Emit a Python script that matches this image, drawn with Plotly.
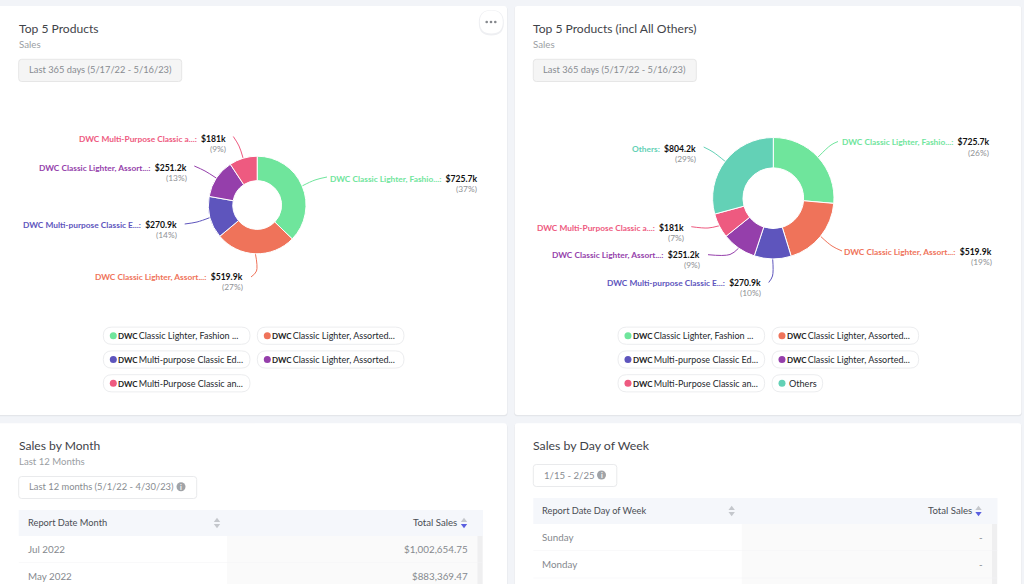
import math
import plotly.graph_objects as go

FONT = "Lato"
# ---- data
product_names = ["DWC Classic Lighter, Fashio...:", "DWC Classic Lighter, Assort...:", "DWC Multi-purpose Classic E...:",
                 "DWC Classic Lighter, Assort...:", "DWC Multi-Purpose Classic a...:"]
others_name = "Others:"
sales_k = [725.7, 519.9, 270.9, 251.2, 181.0]
sales_labels = ["$725.7k", "$519.9k", "$270.9k", "$251.2k", "$181k"]
pct_top5 = ["(37%)", "(27%)", "(14%)", "(13%)", "(9%)"]
others_k = 804.2
others_label = "$804.2k"
pct_all = ["(26%)", "(19%)", "(10%)", "(9%)", "(7%)", "(29%)"]
colors = ["#6FE59C", "#EF735A", "#5E55BD", "#953FAB", "#EE5A80"]
others_color = "#63D1B6"
legend_left = ["Classic Lighter, Fashion ...", "Classic Lighter, Assorted...", "Multi-purpose Classic Ed...",
               "Classic Lighter, Assorted...", "Multi-Purpose Classic an..."]
month_rows = ["Jul 2022", "May 2022"]
month_sales = ["$1,002,654.75", "$883,369.47"]
day_rows = ["Sunday", "Monday"]
day_sales = ["-", "-"]

W, H = 1024, 584
shapes, ann, traces = [], [], []


def rrect(x0, y0, x1, y1, r, fill, line=None, lw=1, layer="below"):
    p = (f"M{x0+r},{y0} L{x1-r},{y0} Q{x1},{y0} {x1},{y0+r} L{x1},{y1-r} Q{x1},{y1} {x1-r},{y1} "
         f"L{x0+r},{y1} Q{x0},{y1} {x0},{y1-r} L{x0},{y0+r} Q{x0},{y0} {x0+r},{y0} Z")
    shapes.append(dict(type="path", path=p, xref="x", yref="y", fillcolor=fill, layer=layer,
                       line=dict(color=line or fill, width=lw if line else 0)))


def rect(x0, y0, x1, y1, fill):
    shapes.append(dict(type="rect", x0=x0, y0=y0, x1=x1, y1=y1, xref="x", yref="y", fillcolor=fill,
                       layer="below", line=dict(width=0)))


def text(x, y, s, size=10, color="#333", anchor="left"):
    ann.append(dict(x=x, y=y, xref="x", yref="y", text=s, showarrow=False, xanchor=anchor, yanchor="middle",
                    font=dict(family=FONT, size=size, color=color), borderpad=0, borderwidth=0))


def dots(xs, ys, color, size, symbol="circle"):
    traces.append(go.Scatter(x=xs, y=ys, mode="markers", hoverinfo="skip", showlegend=False,
                             marker=dict(color=color, size=size, symbol=symbol, line=dict(width=0))))


# ---- cards
for x0, x1 in ((-6, 507), (514.7, 1021.3)):
    rrect(x0 - 0.5, 6.5, x1 + 0.5, 416.2, 3, "#E4E6EA")
    rrect(x0, 6, x1, 415, 3, "#FFFFFF")
    rrect(x0 - 0.5, 424, x1 + 0.5, 600, 3, "#E4E6EA")
    rrect(x0, 423.3, x1, 600, 3, "#FFFFFF")

# ---- headers
TITLE, SUB = "#3F4349", "#9A9EA3"
for x, t in ((18.7, "Top 5 Products"), (533.3, "Top 5 Products (incl All Others)")):
    text(x, 28.7, t, 12.1, TITLE)
    text(x, 44, "Sales", 9.7, SUB)
for x0 in (18.7, 533.3):
    rrect(x0, 59.3, x0 + 163, 81.5, 3, "#F5F5F5", "#E6E6E6")
    text(x0 + 81.5, 69.7, "Last 365 days (5/17/22 - 5/16/23)", 9.3, "#888C91", "center")

# menu button
rrect(478.8, 10, 503.8, 35.5, 12.5, "#EEEFF2")
rrect(479.8, 10.5, 502.8, 33.5, 11.5, "#FFFFFF")
dots([486.7, 491, 495.3], [22, 22, 22], "#85888D", 2.6)


# ---- donuts
def donut(values, cols, cx, cy, r):
    traces.append(go.Pie(values=values, marker=dict(colors=cols, line=dict(color="#FFFFFF", width=1)), hole=0.5,
                         sort=False, direction="clockwise", rotation=0, textinfo="none", hoverinfo="skip",
                         showlegend=False,
                         domain=dict(x=[(cx - r) / W, (cx + r) / W], y=[1 - (cy + r) / H, 1 - (cy - r) / H])))
    total, acc, out = sum(values), 0, []
    for v in values:
        a = 2 * math.pi * (acc + v / 2) / total
        out.append((cx + r * math.sin(a), cy - r * math.cos(a)))
        acc += v
    return out


def leader(start, mid, end, color):
    traces.append(go.Scatter(x=[start[0], mid[0], end[0]], y=[start[1], mid[1], end[1]], mode="lines",
                             hoverinfo="skip", showlegend=False,
                             line=dict(color=color, width=1, shape="spline", smoothing=1)))


def label(xr, y, name, value, pct, color):
    text(xr, y, f'<b><span style="color:{color};font-size:8.35px">{name}</span>\u00a0\u00a0'
                f'<span style="color:#111">{value}</span></b>', 8.6, "#111", "right")
    text(xr, y + 10.2, pct, 8.4, "#8F9296", "right")


# left donut
starts = donut(sales_k, colors, 257.2, 205, 48.8)
left_xr = [477.3, 243.3, 177, 187, 225.7]
left_y = [178.5, 277, 224.5, 167.5, 138.5]
left_mid = [(315, 180), (256.5, 271), (197, 222), (205, 171), (239, 146)]
left_end = [(327, 177), (251, 277), (184.7, 224), (194.3, 166), (233.3, 136.5)]
for i in range(5):
    leader(starts[i], left_mid[i], left_end[i], colors[i])
    label(left_xr[i], left_y[i], product_names[i], sales_labels[i], pct_top5[i], colors[i])

# right donut
all_vals = sales_k + [others_k]
all_cols = colors + [others_color]
all_names = product_names + [others_name]
all_labels = sales_labels + [others_label]
starts = donut(all_vals, all_cols, 773.3, 198.2, 60.7)
right_xr = [989.3, 991.7, 761, 700.3, 684, 696]
right_y = [142.3, 251.5, 283, 255, 228, 149]
right_mid = [(831, 145), (832, 246), (772.5, 276), (730, 254.5), (708, 228), (713, 152)]
right_end = [(838, 141.5), (842, 251), (768.7, 282.5), (708, 254.7), (691.3, 226.7), (703.7, 147)]
for i in range(6):
    leader(starts[i], right_mid[i], right_end[i], all_cols[i])
    label(right_xr[i], right_y[i], all_names[i], all_labels[i], pct_all[i], all_cols[i])

# ---- chips
ROWS = [335.7, 359.5, 383.3]
slots = [(0, 0), (1, 0), (0, 1), (1, 1), (0, 2)]
for off in (0, 514.67):
    for i, (c, rw) in enumerate(slots):
        x0 = (103.3 if c == 0 else 257.3) + off
        y = ROWS[rw]
        rrect(x0, y - 8.6, x0 + 146.7, y + 8.6, 8.6, "#FFFFFF", "#ECEDEF")
        dots([x0 + 10], [y], colors[i], 7)
        text(x0 + 15, y, f'<b><span style="font-size:8px;color:#222">DWC</span></b>\u2009{legend_left[i]}', 9.0, "#26292E")
x0 = 772
rrect(x0, ROWS[2] - 8.6, x0 + 50.7, ROWS[2] + 8.6, 8.6, "#FFFFFF", "#ECEDEF")
dots([x0 + 10], [ROWS[2]], others_color, 7)
text(x0 + 17.3, ROWS[2], "Others", 9.1, "#26292E")


# ---- tables
def table(x0, x1, split, head_y, head_name, rows, vals):
    rect(x0, head_y, x1, head_y + 26, "#F5F7FB")
    text(x0 + 9, head_y + 12.2, head_name, 9.25, "#4A4E54")
    rect(split, head_y + 26, x1, 590, "#FAFAFA")
    rect(x1 - 5.5, head_y + 26, x1 - 0.5, 590, "#EFEFF0")
    dots([split - 10, split - 10], [head_y + 10.5, head_y + 15.5], "#C4C7CC", 5.5, "triangle-up")
    traces[-1].marker.symbol = ["triangle-up", "triangle-down"]
    text(x1 - 26, head_y + 12.2, "Total Sales", 9.6, "#4A4E54", "right")
    dots([x1 - 19, x1 - 19], [head_y + 10.5, head_y + 15.5], ["#C4C7CC", "#5A5FE0"], 5.5)
    traces[-1].marker.symbol = ["triangle-up", "triangle-down"]
    for i, (r, v) in enumerate(zip(rows, vals)):
        y = head_y + 38.5 + i * 27.3
        text(x0 + 9, y, r, 9.8, "#85898E")
        text(x1 - 15, y, v, 9.8, "#85898E", "right")
        rect(x0, y + 13.9, x1, y + 14.5, "#F3F4F6")


def info(cx, cy):
    dots([cx], [cy], "#A0A3A7", 9)
    text(cx, cy, "<b>i</b>", 7, "#FFFFFF", "center")


text(18.7, 445.5, "Sales by Month", 12.1, TITLE)
text(18.7, 461, "Last 12 Months", 9.6, SUB)
rrect(18.7, 476.5, 196.7, 498.5, 3, "#FFFFFF", "#E9EAEC")
text(29, 486.7, "Last 12 months (5/1/22 - 4/30/23)", 9.35, "#888C91")
info(181, 486.7)
table(18.7, 483, 227, 510, "Report Date Month", month_rows, month_sales)

text(533.3, 445.5, "Sales by Day of Week", 12.3, TITLE)
rrect(533.3, 464.5, 616.8, 486.5, 3, "#FFFFFF", "#E9EAEC")
text(544, 475, "1/15 - 2/25", 9.6, "#888C91")
info(601.5, 475)
table(533.3, 997.5, 741.7, 498, "Report Date Day of Week", day_rows, day_sales)

fig = go.Figure(traces)
fig.update_layout(width=W, height=H, margin=dict(l=0, r=0, t=0, b=0), paper_bgcolor="#F2F4F8", plot_bgcolor="rgba(0,0,0,0)",
                  xaxis=dict(visible=False, range=[0, W], fixedrange=True),
                  yaxis=dict(visible=False, range=[H, 0], fixedrange=True),
                  shapes=shapes, annotations=ann, showlegend=False, hovermode=False)
fig.write_html("out.html", config=dict(displayModeBar=False),
               post_script="document.body.style.margin='0';document.body.style.overflow='hidden';")
